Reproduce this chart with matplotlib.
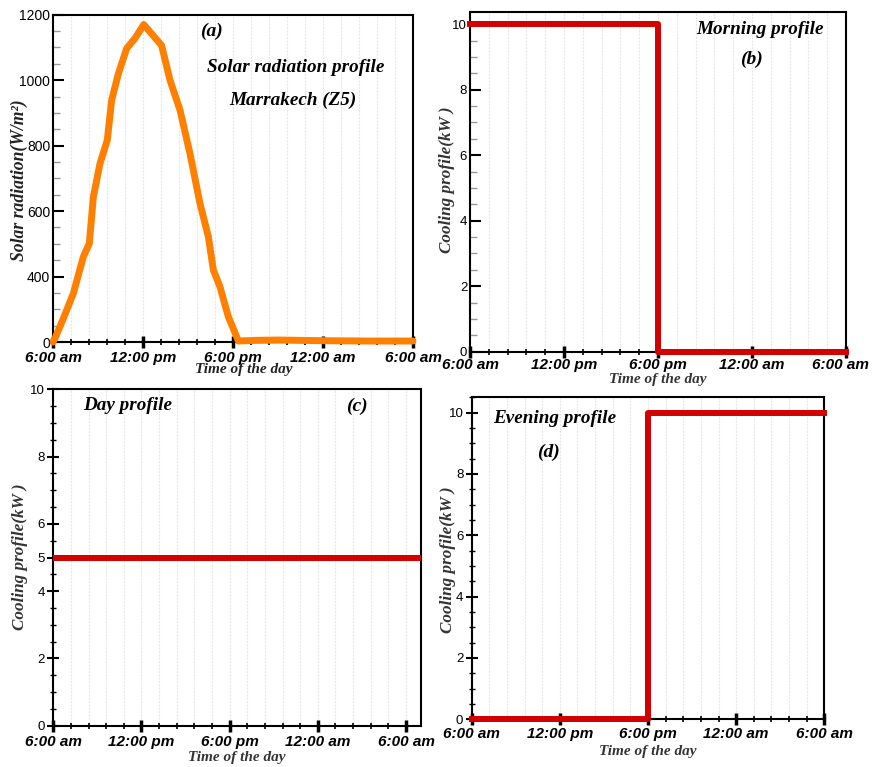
import matplotlib

matplotlib.use("Agg")
import matplotlib.pyplot as plt
import matplotlib.transforms as mtransforms
from matplotlib.ticker import MultipleLocator

# time of day in hours, 6 = 6:00 am, 30 = 6:00 am next day
time_ticks = [6, 12, 18, 24, 30]
time_labels = ["6:00 am", "12:00 pm", "6:00 pm", "12:00 am", "6:00 am"]

# (a) solar radiation, Marrakech (Z5), read on the printed axis
solar_hours = [6.0, 6.13, 6.69, 7.36, 8.02, 8.42, 8.69, 9.13, 9.62, 9.91, 10.36, 10.91,
               11.47, 12.05, 13.24, 13.8, 14.47, 15.13, 15.8, 16.36, 16.69, 17.13, 17.69,
               18.36, 19.5, 21.0, 24.0, 27.0, 30.0]
solar_values = [200, 211, 272, 349, 460, 501, 643, 745, 817, 939, 1020, 1097,
                1128, 1170, 1106, 1000, 908, 776, 623, 521, 420, 369, 277,
                203, 205, 206, 204, 203, 203]
solar_ticks = [200, 400, 600, 800, 1000, 1200]
solar_tick_labels = ["0", "400", "600", "800", "1000", "1200"]

# cooling load profiles (kW), step changes
step_hours = [6, 18, 30]
morning_kw = [10, 0, 0]
evening_kw = [0, 10, 10]
day_hours = [6, 31]
day_kw = [5, 5]

W, H = 872, 767
fig = plt.figure(figsize=(W / 100, H / 100), dpi=100)

SERIF = "Liberation Serif"
SANS = "Liberation Sans"
ORANGE = "#ff8000"
RED = "#d20000"


def box(l, t, r, b):
    return [l / W, 1 - b / H, (r - l) / W, (b - t) / H]


def style_axes(ax, ytick_dir="in", minor_y_color="#999999", ylabel_size=9.5, xpad=2):
    for s in ax.spines.values():
        s.set_linewidth(1.5)
        s.set_color("black")
    ax.set_xticks(time_ticks)
    ax.set_xticklabels(time_labels, fontfamily=SANS, fontweight="bold",
                       fontstyle="italic", fontsize=11)
    ax.xaxis.set_minor_locator(MultipleLocator(1.2))
    ax.tick_params(axis="x", which="major", direction="inout", length=9, width=2.5, pad=xpad)
    ax.tick_params(axis="x", which="minor", direction="inout", length=5, width=1.2)
    ax.tick_params(axis="y", which="major", direction=ytick_dir, length=8, width=1.5,
                   labelsize=ylabel_size, pad=2)
    ax.tick_params(axis="y", which="minor", direction=ytick_dir, length=5, width=1,
                   color=minor_y_color)
    for lab in ax.get_yticklabels():
        lab.set_fontfamily(SANS)
    ax.grid(True, which="both", axis="x", color="#e8e8e8", linewidth=0.8, linestyle=(0, (2, 1)))
    ax.set_axisbelow(True)


def label(x, y, s, size=14, rot=0, color="black"):
    fig.text(x / W, 1 - y / H, s, ha="center", va="center", rotation=rot,
             fontfamily=SERIF, fontweight="bold", fontstyle="italic",
             fontsize=size, color=color)


# (a) solar radiation
ax = fig.add_axes(box(53, 14.7, 413, 342))
ax.plot(solar_hours, solar_values, color=ORANGE, linewidth=5, clip_on=False,
        solid_joinstyle="round", solid_capstyle="round", zorder=3)
ax.set_xlim(6, 30)
ax.set_ylim(200, 1200)
ax.set_yticks(solar_ticks)
ax.set_yticklabels(solar_tick_labels)
ax.yaxis.set_minor_locator(MultipleLocator(50))
style_axes(ax, ylabel_size=10)
label(211, 31, "(a)", 14)
label(296, 68, "Solar radiation profile", 13.8)
label(293, 100, "Marrakech (Z5)", 13.8)
label(244, 370, "Time of the day", 11, color="#222222")
label(19, 180, "Solar radiation(W/m²)", 12.7, 90, color="#222222")

# (b) morning profile
ax = fig.add_axes(box(470, 11.7, 846, 351.7))
ax.plot(step_hours, morning_kw, drawstyle="steps-post", color=RED, linewidth=4.3,
        clip_on=False, zorder=3)
ax.set_xlim(6, 30)
ax.set_ylim(0, 10.38)
ax.set_yticks([0, 2, 4, 6, 8, 10])
ax.yaxis.set_minor_locator(MultipleLocator(0.5))
style_axes(ax, xpad=0)
# last label sits against the right edge of the figure
last = ax.get_xticklabels()[-1]
last.set_transform(last.get_transform() +
                   mtransforms.ScaledTranslation(-6 / 100, 0, fig.dpi_scale_trans))
label(760, 29, "Morning profile", 13.8)
label(751, 59, "(b)", 14)
label(658, 379, "Time of the day", 11, color="#333333")
label(447, 180, "Cooling profile(kW )", 12.3, 90, color="#333333")

# (c) day profile
ax = fig.add_axes(box(53.3, 389.3, 420.7, 725.7))
ax.plot(day_hours, day_kw, color=RED, linewidth=4.3, zorder=3)
ax.set_xlim(6, 31)
ax.set_ylim(0, 10)
ax.set_yticks([0, 2, 4, 5, 6, 8, 10])
ax.yaxis.set_minor_locator(MultipleLocator(0.5))
style_axes(ax, ytick_dir="inout", minor_y_color="black")
label(128, 406, "Day profile", 13.8)
label(357, 406, "(c)", 14)
label(237, 757, "Time of the day", 11, color="#333333")
label(20, 557, "Cooling profile(kW )", 12.3, 90, color="#333333")

# (d) evening profile
ax = fig.add_axes(box(471.7, 396.7, 824.3, 719.3))
ax.plot(step_hours, evening_kw, drawstyle="steps-post", color=RED, linewidth=4.3,
        clip_on=False, zorder=3)
ax.set_xlim(6, 30)
ax.set_ylim(0, 10.52)
ax.set_yticks([0, 2, 4, 6, 8, 10])
ax.yaxis.set_minor_locator(MultipleLocator(0.5))
style_axes(ax, ytick_dir="inout", minor_y_color="black", xpad=1)
label(555, 418, "Evening profile", 13.8)
label(548, 452, "(d)", 14)
label(648, 752, "Time of the day", 11, color="#333333")
label(448, 560, "Cooling profile(kW )", 12.3, 90, color="#333333")

fig.savefig("out.png", dpi=100, facecolor="white")
